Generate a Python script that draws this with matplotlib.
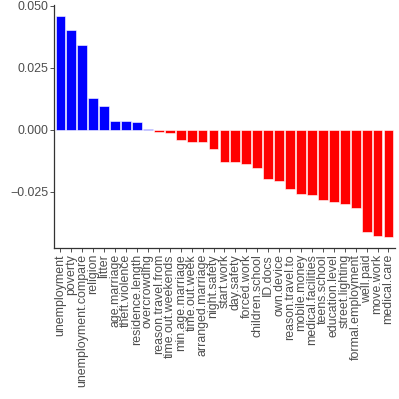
import matplotlib
matplotlib.use('Agg')
import matplotlib.pyplot as plt
import numpy as np

plt.rcParams['font.family'] = ['Liberation Sans', 'DejaVu Sans']

# variables and their effect
labels = ['unemployment', 'poverty', 'unemployment.compare', 'religion', 'litter',
          'age.marriage', 'theft.violence', 'residence.length', 'overcrowding',
          'reason.travel.from', 'time.out.weekends', 'min.age.marriage', 'time.out.week',
          'arranged.marriage', 'night.safety', 'start.work', 'day.safety', 'forced.work',
          'children.school', 'ID.docs', 'own.device', 'reason.travel.to', 'mobile.money',
          'medical.facilities', 'teens.school', 'education.level', 'street.lighting',
          'formal.employment', 'well.paid', 'move.work', 'medical.care']
values = [0.0460, 0.0404, 0.0343, 0.0129, 0.0096,
          0.0037, 0.0037, 0.0031, 0.0002,
          -0.0007, -0.0013, -0.0040, -0.0047,
          -0.0048, -0.0075, -0.0128, -0.0129, -0.0139,
          -0.0153, -0.0196, -0.0205, -0.0239, -0.0259,
          -0.0263, -0.0283, -0.0292, -0.0297,
          -0.0313, -0.0413, -0.0429, -0.0432]

vals = np.array(values)
x = np.arange(len(labels))
colors = ['#0000FF' if v > 0 else '#FF0000' for v in vals]

fig = plt.figure(figsize=(3.99, 3.99), dpi=100)
ax = fig.add_axes([0.135, 0.378, 0.855, 0.61])
ax.bar(x, vals, width=0.9, color=colors, edgecolor='white', linewidth=0.4)

rng = vals.max() - vals.min()
ax.set_xlim(-0.6, len(labels) - 0.4)
ax.set_ylim(vals.min() - 0.05 * rng, vals.max() + 0.05 * rng)

ax.set_yticks([-0.025, 0.0, 0.025, 0.05])
ax.set_yticklabels(['\u22120.025', '0.000', '0.025', '0.050'])
ax.set_xticks(x)
ax.set_xticklabels(labels, rotation=90, ha='center', va='top')

for s in ['top', 'right']:
    ax.spines[s].set_visible(False)
for s in ['left', 'bottom']:
    ax.spines[s].set_color('#333333')
    ax.spines[s].set_linewidth(0.9)
ax.tick_params(axis='both', colors='#333333', labelcolor='#4D4D4D',
               labelsize=8.9, length=2.7, width=0.6, pad=1.5)

fig.savefig('out.png', dpi=100)
